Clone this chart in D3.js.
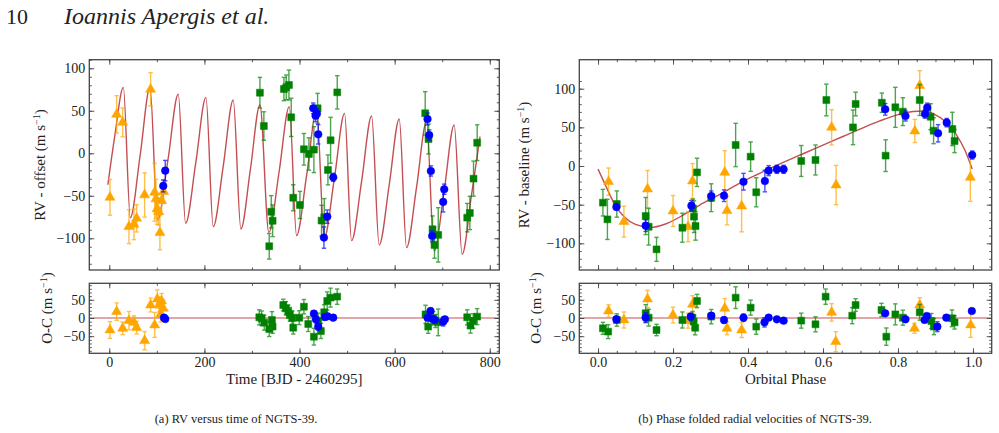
<!DOCTYPE html>
<html>
<head>
<meta charset="utf-8">
<script src="https://cdn.jsdelivr.net/npm/d3@7"></script>
<style>
    body { margin: 0; background: #fff; }
    svg text { font-family: "Liberation Serif", "DejaVu Serif", serif; fill: #222; }
</style>
</head>
<body>
<div id="figure"></div>
<script>
// ---- data: [x, value, error] ----
// (a) RV versus time
const timeOrange = [[1.5,-51.8,21],[15.5,45.8,22],[28.1,36.4,17],[41.4,-86.3,20],[51.9,-83.6,18],[57.5,-76.5,16],
    [74.3,-49,26],[86.9,75.2,19.6],[95.4,-45.9,34],[98.2,-53.7,23],[100.3,-65.5,18],[103.7,-68.6,16],
    [106.5,-93.4,20],[110,-55.7,16],[114.3,-45.1,14]];
const timeGreen = [[316.7,71.3,18],[325,32.1,16.7],[336.3,-109.4,15],[340.5,-68.8,19],[343.4,-79.4,18.6],
    [367.2,75.6,13.7],[372.1,77.6,14.5],[377.7,80.3,17.6],[382.5,42.3,22.5],[386.8,-52.3,15.3],[400.8,-60.8,16],
    [409.2,4.7,18.6],[419.7,-0.8,19],[430.2,4.3,27],[438,52.9,17.6],[446.3,-79.2,18],[452,-75.3,22],
    [459.7,-19.6,17.6],[465.3,15.3,27],[479.3,71.7,19.6],[664.2,47,25.5],[671.2,16.8,17.6],[679.6,-89.4,15.7],
    [683.8,-107.8,15.7],[691.6,-96,32],[752.5,-75.7,16.7],[758.1,-70.2,19.6],[765.8,-29.8,20.6],[773.5,12.5,21]];
const timeBlue = [[113.5,-38.4,7],[117.7,-20.4,12],[428.8,52.9,6.3],[433.7,44.2,7],[436.5,46.6,5.5],[439.3,22.3,11.4],
    [451.3,-99.2,12.5],[458.3,-74.5,7.8],[470.9,-28.3,4.7],[669.1,40.3,7],[672.6,21.5,6],[676.1,-20.8,6],
    [678.9,-97.2,6],[702,-57.2,11.8],[704.2,-42.3,6]];
const timeModel = [[-3,-37],[12,22],[29.5,77.6],[44.3,-75.7],[65,-2],[85.6,77.6],[101.6,-78.4],[123.3,-8],
    [145,69.4],[160.5,-82.4],[181.9,-11],[203.2,65.8],[218.6,-86.3],[239.6,-15],[260.6,62.7],[276.7,-89],
    [296.7,-19],[316.7,56.8],[335.5,-93],[357,-22],[378.4,54.9],[393.8,-96.9],[414.9,-26],[436,50.9],
    [452,-99.2],[473.4,-29],[494.7,47],[509.4,-102.7],[530.5,-33],[551.5,43.8],[567.5,-107.8],[588.6,-37],
    [609.6,40.3],[625,-111],[646,-40],[667,37.2],[683.1,-114.9],[704.1,-44],[725.1,33.3],[741.9,-118.9],
    [761.6,-49],[779.5,19.6]];
const ocTimeOrange = [[1.5,-33,23],[15.5,17.4,24],[28.1,-28.4,17.4],[41.4,-7.3,25],[51.9,-12,18],[57.5,-26.6,17.4],
    [74.3,-62.3,25],[86.9,35.7,19],[95.4,-19.2,34],[101,52.2,25],[105.2,37.5,20.6],[108,10,20.6],
    [110,46.7,20.6],[113.6,26.6,23]];
const ocTimeGreen = [[315.4,1.8,20.6],[320.3,-0.9,20],[325.8,-12.8,20.6],[336.3,-30.2,20.6],[342,-5.5,23],
    [343.4,-23.8,18.3],[365.8,35.7,16],[371.4,26.6,18.3],[376.3,17.4,18.3],[379.8,10,19],[384.7,0.9,18.3],
    [386.8,-26.6,17.4],[399.4,0.9,19],[409.2,31.1,19.7],[418.3,-16.5,20.6],[430.2,-51.3,23],[439.2,-7.3,20.6],
    [444.9,-35.7,20.6],[451.9,15.6,20.6],[458.2,46.7,25],[465.2,55.9,26],[479.2,58.6,21],[664.9,10,25],
    [670.5,-23.8,18.3],[681,-0.9,18.3],[685.9,-8.2,18],[691.6,-12,36.6],[752.5,1.8,20.6],[759.5,-21,20.6],
    [765.1,-8.2,20],[773.5,3.7,22]];
const ocTimeBlue = [[115,1,8],[117.7,-2.7,7],[430.2,11.9,8],[434.4,-3.7,8],[439.3,-23.8,9],[453.3,2.7,8],
    [459,4.6,7],[470.8,0.9,6],[669.1,0.9,6],[675.4,19.2,8],[679.6,-2.7,6],[684.5,-5.5,6],[702,-10,12],[705.6,-3.7,7]];

// (b) phase folded
const phaseOrange = [[0.028,-20.3,17.7],[0.069,-72,20],[0.132,-29.8,24],[0.2,-58.2,20],[0.24,-78.5,19.4],
    [0.252,-19.4,22.6],[0.338,-8.2,28],[0.344,-57.8,18.3],[0.383,-51.7,33.4],[0.623,50,22.8],[0.635,-24.6,25.4],
    [0.845,45.3,15],[0.858,103.9,19.4],[0.993,-14.7,31]];
const phaseGreen = [[0.013,-47.4,17.2],[0.025,-69,26],[0.05,-49.2,17],[0.127,-64.7,24],[0.135,-78.5,23.7],
    [0.156,-107.8,15.5],[0.225,-79.8,18.8],[0.253,-54.8,12],[0.256,-65.5,20.5],[0.26,-77.6,18.3],[0.264,-8.2,18.3],
    [0.302,-41,18],[0.367,27.2,28],[0.407,12.1,19],[0.422,-34,18.8],[0.542,6.5,20],[0.58,7.8,19.4],
    [0.609,85.4,20.5],[0.68,50,22.4],[0.687,80.2,15.3],[0.757,81.9,12.5],[0.767,13.4,20.5],[0.793,75.9,25.9],
    [0.813,70.3,18],[0.858,85.4,20],[0.887,63.8,16.8],[0.895,45.7,16.8],[0.945,47.9,21.6],[0.951,32.3,15]];
const phaseBlue = [[0.049,-53,3.7],[0.127,-77.2,7.5],[0.249,-51.3,6.7],[0.302,-38.8,6.5],[0.336,-38.4,7.5],
    [0.388,-20.3,10.8],[0.445,-19.4,14],[0.455,-6,6.5],[0.477,-4.3,5.2],[0.495,-4.3,5.2],[0.766,73.3,7.5],
    [0.82,64.7,6.5],[0.872,67.3,5.4],[0.878,75.5,5.8],[0.907,42.3,11.2],[0.93,56.1,5.4],[0.998,14.2,5.2]];
const phaseModel = [[0,-4],[0.02,-25],[0.045,-50],[0.07,-66],[0.1,-75.5],[0.14,-79.5],[0.18,-75],[0.227,-63.5],
    [0.271,-50.5],[0.316,-39],[0.36,-27],[0.405,-15.5],[0.45,-5],[0.5,6],[0.55,16.5],[0.6,27],[0.65,37.5],
    [0.7,48],[0.75,58],[0.8,66.5],[0.84,70.5],[0.868,71.2],[0.895,67.5],[0.925,58],[0.955,41],[0.978,21],[0.998,-4]];
const ocPhaseOrange = [[0.028,19.2,17],[0.069,-5.5,22],[0.132,52.2,24],[0.2,8.2,21.5],[0.24,-7.3,20.6],
    [0.252,37.5,23.8],[0.338,26.6,26.6],[0.344,-28.4,17.4],[0.383,-33,20.6],[0.623,15.6,24],[0.634,-65,27.5],
    [0.844,-28.4,13.7],[0.858,35.7,20],[0.994,-19.2,34]];
const ocPhaseGreen = [[0.013,-28.4,16.5],[0.027,-37.5,19],[0.05,-5.5,17],[0.127,12.8,23.8],[0.135,0.9,23],
    [0.156,-33,15.6],[0.225,-5.5,22],[0.252,0.9,17],[0.255,-10,19],[0.259,-26.6,19.7],[0.264,46.7,18.3],
    [0.302,3.7,19.7],[0.367,55.9,29.8],[0.407,28.4,20.6],[0.422,-23.8,21],[0.542,-7.3,20.6],[0.58,-17.4,20.6],
    [0.607,58.6,21],[0.678,6.4,22],[0.687,35.7,17.4],[0.756,22,18.3],[0.769,-51.3,23.8],[0.793,10,28.8],
    [0.813,0.9,20.6],[0.858,15.6,21.5],[0.889,-8.2,20.6],[0.896,-23.8,22],[0.944,-0.9,23],[0.951,-12,18.3]];
const ocPhaseBlue = [[0.049,-3.7,9],[0.127,0.9,13.7],[0.247,3.7,9],[0.302,6.4,7],[0.336,-5.5,9],[0.388,0.9,10],
    [0.444,-12,12.8],[0.455,0.9,6],[0.477,-3.7,5],[0.495,-7.3,5],[0.766,12.8,6],[0.82,-3.7,6],[0.871,-5.5,6],
    [0.877,5.5,6],[0.905,-23.8,13.7],[0.929,0.9,5],[0.997,19.2,5]];

// ---- ticks and labels ----
const timeTicks = [0, 200, 400, 600, 800];
const phaseTicks = [0.0, 0.2, 0.4, 0.6, 0.8, 1.0];
const rvTicks = [-100, -50, 0, 50, 100];
const ocTicks = [-50, 0, 50];

const instruments = {
    orange: { color: "#ffa500", shape: d3.symbolTriangle, size: 44 },
    green:  { color: "#008000", shape: d3.symbolSquare, size: 48 },
    blue:   { color: "#0000ff", shape: d3.symbolCircle, size: 46 }
};
const modelColor = "#c44e52";
const frameColor = "#444";

class RVPanel {
    constructor(svg, id, box, xDomain, yDomain, axes) {
        this.svg = svg;
        this.id = id;
        this.box = box;
        this.xDomain = xDomain;
        this.yDomain = yDomain;
        this.axes = axes;
        this.initVis();
    }

    initVis() {
        let vis = this;
        const b = vis.box;

        vis.x = d3.scaleLinear().domain(vis.xDomain).range([b.x0, b.x1]);
        vis.y = d3.scaleLinear().domain(vis.yDomain).range([b.y1, b.y0]);

        vis.svg.select("defs").append("clipPath")
            .attr("id", "clip-" + vis.id)
            .append("rect")
            .attr("x", b.x0).attr("y", b.y0)
            .attr("width", b.x1 - b.x0).attr("height", b.y1 - b.y0);

        vis.plot = vis.svg.append("g").attr("clip-path", `url(#clip-${vis.id})`);
        vis.axisGroup = vis.svg.append("g");
        vis.drawAxes();
    }

    drawAxes() {
        let vis = this;
        const b = vis.box, a = vis.axes;

        const sides = [
            { make: d3.axisBottom, scale: vis.x, pos: `translate(0,${b.y1})`, ticks: a.xTicks, minor: a.xMinor, fmt: a.xFormat },
            { make: d3.axisTop, scale: vis.x, pos: `translate(0,${b.y0})`, ticks: a.xTicks, minor: a.xMinor, fmt: null },
            { make: d3.axisLeft, scale: vis.y, pos: `translate(${b.x0},0)`, ticks: a.yTicks, minor: a.yMinor, fmt: a.yFormat },
            { make: d3.axisRight, scale: vis.y, pos: `translate(${b.x1},0)`, ticks: a.yTicks, minor: a.yMinor, fmt: null }
        ];

        sides.forEach(s => {
            const minorG = vis.axisGroup.append("g").attr("transform", s.pos)
                .call(s.make(s.scale).tickValues(s.minor).tickSize(-2.5).tickFormat(""));
            const majorG = vis.axisGroup.append("g").attr("transform", s.pos)
                .call(s.make(s.scale).tickValues(s.ticks).tickSize(-5).tickPadding(4)
                    .tickFormat(s.fmt ? s.fmt : ""));
            [minorG, majorG].forEach(g => {
                g.select(".domain").remove();
                g.selectAll("line").attr("stroke", frameColor).attr("stroke-width", 0.9);
                g.selectAll("text").attr("font-size", 14).attr("fill", "#333")
                    .style("font-family", '"Liberation Serif", serif');
            });
        });

        vis.axisGroup.append("rect")
            .attr("x", b.x0).attr("y", b.y0)
            .attr("width", b.x1 - b.x0).attr("height", b.y1 - b.y0)
            .attr("fill", "none")
            .attr("stroke", frameColor)
            .attr("stroke-width", 1.3);
    }

    drawModel(points) {
        let vis = this;
        const line = d3.line()
            .x(d => vis.x(d[0]))
            .y(d => vis.y(d[1]))
            .curve(d3.curveMonotoneX);
        vis.plot.append("path")
            .datum(points)
            .attr("d", line)
            .attr("fill", "none")
            .attr("stroke", modelColor)
            .attr("stroke-width", 1.4);
    }

    drawZero() {
        let vis = this;
        vis.plot.append("line")
            .attr("x1", vis.box.x0).attr("x2", vis.box.x1)
            .attr("y1", vis.y(0)).attr("y2", vis.y(0))
            .attr("stroke", modelColor)
            .attr("stroke-width", 1.1);
    }

    drawPoints(data, key) {
        let vis = this;
        const inst = instruments[key];
        const g = vis.plot.append("g").attr("class", "pts-" + key);

        const bars = g.selectAll(".err").data(data).join("g").attr("class", "err")
            .attr("stroke", inst.color)
            .attr("stroke-width", 1.4)
            .attr("opacity", 0.7);
        bars.append("line")
            .attr("x1", d => vis.x(d[0])).attr("x2", d => vis.x(d[0]))
            .attr("y1", d => vis.y(d[1] - d[2])).attr("y2", d => vis.y(d[1] + d[2]));
        [-1, 1].forEach(sign => {
            bars.append("line")
                .attr("x1", d => vis.x(d[0]) - 2.2).attr("x2", d => vis.x(d[0]) + 2.2)
                .attr("y1", d => vis.y(d[1] + sign * d[2])).attr("y2", d => vis.y(d[1] + sign * d[2]));
        });

        g.selectAll(".mark").data(data).join("path").attr("class", "mark")
            .attr("d", d3.symbol(inst.shape, inst.size))
            .attr("transform", d => `translate(${vis.x(d[0])},${vis.y(d[1])})`)
            .attr("fill", inst.color)
            .attr("stroke", inst.color)
            .attr("stroke-opacity", 0.5)
            .attr("stroke-width", 1);
    }
}

const svg = d3.select("#figure").append("svg")
    .attr("width", 999).attr("height", 433);
svg.append("defs");

// header
const header = svg.append("text").attr("x", 6).attr("y", 24).attr("fill", "#111");
header.append("tspan").attr("font-size", 22).text("10");
header.append("tspan").attr("x", 64).attr("font-size", 24).attr("font-style", "italic")
    .text("Ioannis Apergis et al.");

const fmtInt = d3.format("d");
const fmtPhase = d3.format(".1f");
const rvMinor = d3.range(-130, 111, 10);
const ocMinor = d3.range(-90, 91, 10);
const timeMinor = d3.range(-0, 801, 100);
const phaseMinor = d3.range(0, 1.01, 0.05);

// (a) time panels
const timeTop = new RVPanel(svg, "tt", { x0: 89.3, x1: 499.3, y0: 59.7, y1: 270 }, [-42, 820], [-137.3, 110.1],
    { xTicks: timeTicks, xMinor: timeMinor, xFormat: null, yTicks: rvTicks, yMinor: rvMinor, yFormat: fmtInt });
timeTop.drawModel(timeModel);
timeTop.drawPoints(timeOrange, "orange");
timeTop.drawPoints(timeGreen, "green");
timeTop.drawPoints(timeBlue, "blue");

const timeRes = new RVPanel(svg, "tr", { x0: 89.3, x1: 499.3, y0: 283.3, y1: 353.3 }, [-42, 820], [-97, 95.3],
    { xTicks: timeTicks, xMinor: timeMinor, xFormat: fmtInt, yTicks: ocTicks, yMinor: ocMinor, yFormat: fmtInt });
timeRes.drawZero();
timeRes.drawPoints(ocTimeOrange, "orange");
timeRes.drawPoints(ocTimeGreen, "green");
timeRes.drawPoints(ocTimeBlue, "blue");

// (b) phase panels
const phaseTop = new RVPanel(svg, "pt", { x0: 579.3, x1: 991.7, y0: 59.7, y1: 270 }, [-0.05, 1.05], [-134.5, 137.5],
    { xTicks: phaseTicks, xMinor: phaseMinor, xFormat: null, yTicks: rvTicks, yMinor: rvMinor, yFormat: fmtInt });
phaseTop.drawModel(phaseModel);
phaseTop.drawPoints(phaseOrange, "orange");
phaseTop.drawPoints(phaseGreen, "green");
phaseTop.drawPoints(phaseBlue, "blue");

const phaseRes = new RVPanel(svg, "pr", { x0: 579.3, x1: 991.7, y0: 283.3, y1: 353.3 }, [-0.05, 1.05], [-97, 95.3],
    { xTicks: phaseTicks, xMinor: phaseMinor, xFormat: fmtPhase, yTicks: ocTicks, yMinor: ocMinor, yFormat: fmtInt });
phaseRes.drawZero();
phaseRes.drawPoints(ocPhaseOrange, "orange");
phaseRes.drawPoints(ocPhaseGreen, "green");
phaseRes.drawPoints(ocPhaseBlue, "blue");

// axis titles
function unitLabel(x, y, prefix) {
    const t = svg.append("text")
        .attr("transform", `translate(${x},${y}) rotate(-90)`)
        .attr("text-anchor", "middle")
        .attr("font-size", 15);
    t.append("tspan").text(prefix + " (m s");
    t.append("tspan").attr("font-size", 10).attr("dy", "-0.55em").text("−1");
    t.append("tspan").attr("dy", "0.35em").text(")");
}
unitLabel(45, 165, "RV - offset");
unitLabel(52, 308, "O-C");
unitLabel(529, 165, "RV - baseline");
unitLabel(541, 308, "O-C");

svg.append("text").attr("x", 294.3).attr("y", 384).attr("text-anchor", "middle").attr("font-size", 15)
    .text("Time [BJD - 2460295]");
svg.append("text").attr("x", 785.5).attr("y", 384).attr("text-anchor", "middle").attr("font-size", 15)
    .text("Orbital Phase");

// captions
svg.append("text").attr("x", 236).attr("y", 423).attr("text-anchor", "middle").attr("font-size", 12.5)
    .attr("fill", "#111").text("(a) RV versus time of NGTS-39.");
svg.append("text").attr("x", 755).attr("y", 423).attr("text-anchor", "middle").attr("font-size", 12.5)
    .attr("fill", "#111").text("(b) Phase folded radial velocities of NGTS-39.");
</script>
</body>
</html>
